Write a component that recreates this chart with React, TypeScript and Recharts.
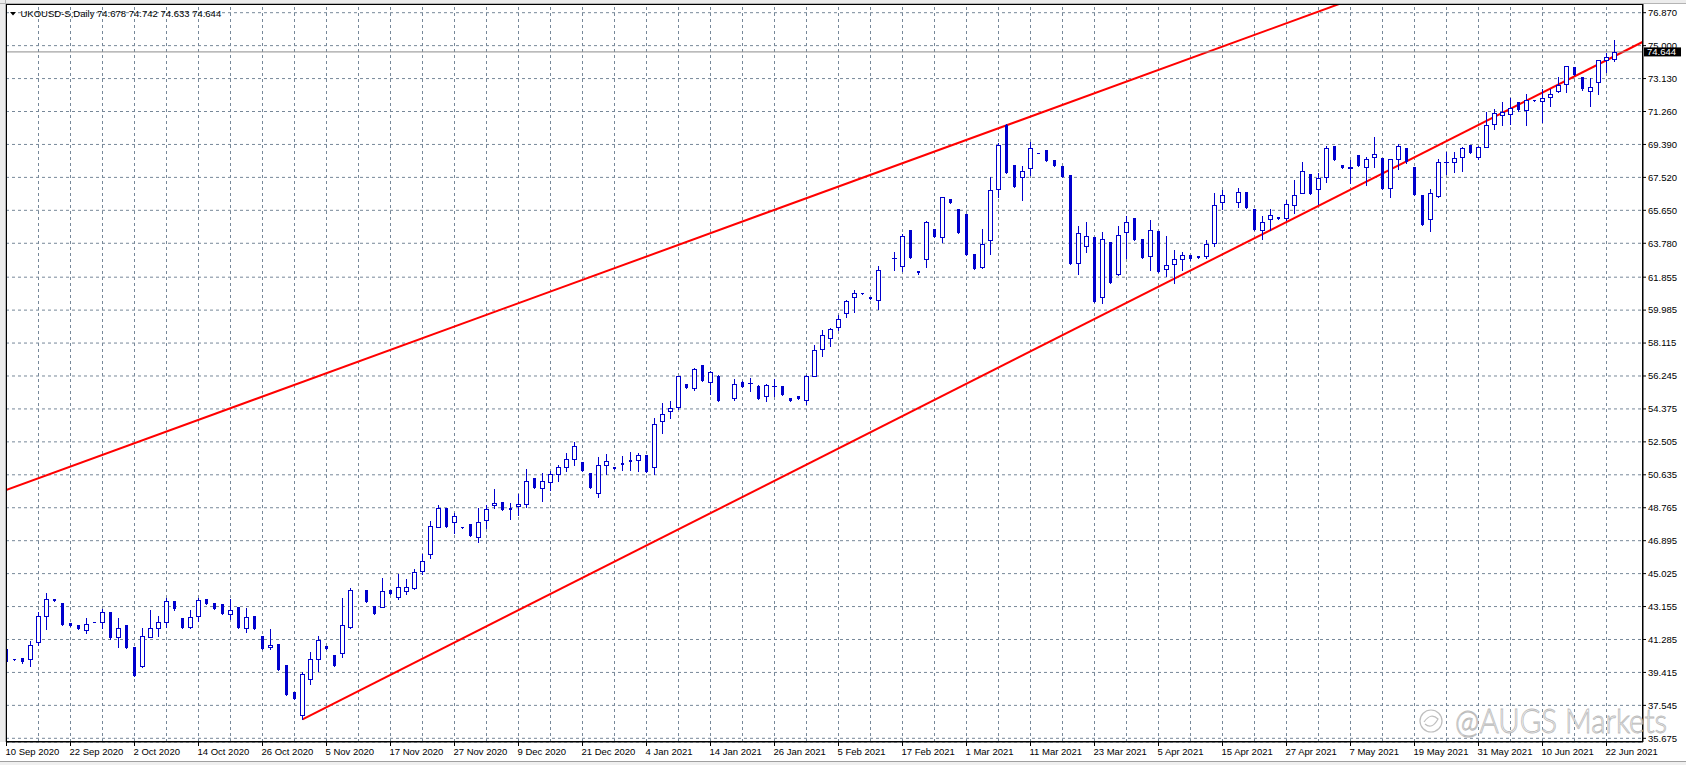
import React from 'react';
import { ComposedChart, Bar, XAxis, YAxis, CartesianGrid, ReferenceLine } from 'recharts';

// ---- data ----
const opens: (number | null)[] = [
  40.74, 40.18, 40.23, 40.15, 41.17, 42.64, 43.57, 43.34, 42.21, 42.10,
  41.83, 42.28, 42.29, 42.83, 41.43, 42.10, 40.85, 39.76, 41.43, 41.91,
  42.30, 43.45, 42.51, 42.00, 42.64, 43.57, 43.34, 43.29, 42.76, 43.12,
  41.96, 42.61, 41.49, 40.87, 41.02, 39.83, 38.30, 36.98, 39.03, 40.15,
  40.91, 40.40, 40.49, 41.98, null, 44.08, 43.17, 43.14, 44.08, 43.72,
  44.06, 44.23, 45.15, 46.12, 47.69, 48.73, 47.94, 47.66, 47.84, 47.10,
  48.05, 48.90, 49.07, 48.77, 48.85, 49.00, 50.45, 49.90, 50.21, 50.68,
  51.10, 51.51, 51.36, 50.74, 49.60, 51.17, 51.08, 51.30, 51.47, 51.45,
  51.76, 51.06, 53.67, 54.24, 54.50, 55.79, 55.58, 56.85, 55.90, 56.26,
  null, 55.01, 55.93, 55.84, 55.70, 55.09, 55.66, 55.68, 55.00, 55.11,
  54.87, 56.25, 57.76, 58.38, 59.05, 59.80, 60.71, 60.95, 60.73, 60.54,
  null, 62.93, 62.47, 64.51, 62.21, 62.87, 64.59, 64.12, 66.29, 65.73,
  65.44, 63.17, 62.45, 63.95, 66.88, 70.49, 68.22, 67.52, 68.03, 68.90,
  69.07, 68.51, 68.17, 67.66, 62.64, 63.62, 64.14, 60.75, 63.85, 62.02,
  64.40, 65.22, 64.02, 63.04, 64.48, 62.30, 62.58, 62.87, 63.11, 63.06,
  63.08, 63.78, 66.10, null, 66.10, 66.67, 65.73, 64.51, 65.16, 65.25,
  65.20, 65.93, 66.65, 67.69, 66.84, 67.56, 69.30, 68.20, 68.05, 68.79,
  68.09, 68.66, 68.62, 66.90, 68.58, 69.19, 68.11, 66.52, 65.14, 66.45,
  68.38, 68.38, 68.66, 69.34, 68.70, 69.26, 70.53, 71.06, 71.10, 71.80,
  71.33, 71.90, 71.84, 72.06, 72.41, 72.80, 73.79, 73.22, 72.41, 72.92,
  74.17, 74.24,
];
const highs: (number | null)[] = [
  40.80, 40.20, 40.25, 41.19, 42.85, 43.93, 43.60, 43.36, 42.23, 42.12,
  42.53, 42.29, 43.04, 42.85, 42.53, 42.12, 40.87, 41.91, 42.98, 42.61,
  43.66, 43.47, 42.53, 42.95, 43.66, 43.59, 43.36, 43.31, 43.57, 43.14,
  43.06, 42.63, 41.51, 41.87, 41.04, 39.85, 38.32, 39.43, 40.57, 41.47,
  40.93, 40.42, 43.63, 44.23, null, 44.10, 43.19, 44.76, 44.10, 45.02,
  44.72, 45.29, 46.14, 48.03, 48.90, 48.75, 48.47, 47.67, 47.86, 48.75,
  48.90, 49.81, 49.09, 49.03, 49.53, 50.95, 50.47, 50.72, 50.85, 51.19,
  51.87, 52.50, 51.38, 50.76, 51.64, 51.82, 51.10, 51.72, 51.91, 51.87,
  51.78, 53.88, 54.69, 54.82, 56.25, 55.81, 56.72, 56.87, 56.53, 56.28,
  null, 56.07, 55.95, 56.15, 55.72, 55.81, 56.10, 55.70, 55.02, 55.13,
  56.28, 57.98, 58.86, 58.97, 59.69, 60.54, 61.13, 60.96, 60.75, 62.49,
  null, 63.28, 64.29, 64.53, 62.23, 65.04, 64.61, 66.40, 66.31, 65.75,
  65.46, 63.19, 64.59, 67.52, 69.49, 70.55, 68.24, 68.17, 69.51, 68.91,
  69.09, 68.53, 68.19, 67.68, 64.76, 64.99, 64.16, 64.42, 63.87, 64.76,
  65.33, 65.24, 64.04, 65.10, 64.50, 64.19, 63.40, 63.28, 63.13, 63.08,
  63.97, 66.63, 66.79, null, 66.90, 66.69, 65.75, 65.33, 65.71, 65.27,
  66.24, 67.37, 68.38, 67.71, 67.79, 69.28, 69.32, 68.22, 68.51, 68.81,
  68.70, 69.81, 68.64, 68.57, 69.42, 69.21, 68.13, 66.54, 66.86, 68.56,
  68.94, 68.96, 69.26, 69.36, 69.32, 71.23, 71.42, 71.78, 72.03, 71.82,
  72.23, 71.91, 72.56, 72.56, 73.20, 73.83, 73.81, 73.24, 73.16, 74.18,
  74.60, 75.32,
];
const lows: (number | null)[] = [
  39.95, 40.12, 39.96, 39.77, 40.96, 41.87, 43.46, 42.10, 42.04, 41.87,
  41.66, 42.26, 41.91, 41.30, 40.87, 40.79, 39.21, 39.74, 41.41, 41.49,
  42.00, 42.97, 41.93, 41.91, 42.36, 43.28, 43.00, 42.72, 42.46, 41.93,
  41.72, 41.87, 40.74, 40.76, 39.55, 38.13, 37.88, 36.75, 38.77, 39.51,
  40.74, 39.78, 40.30, 41.91, null, 43.40, 42.72, 43.12, 43.87, 43.60,
  43.89, 44.17, 44.98, 45.93, 47.67, 47.67, 47.31, 47.63, 47.16, 46.80,
  47.63, 48.75, 48.64, 48.14, 48.33, 48.83, 49.88, 49.17, 49.77, 50.30,
  50.87, 51.21, 50.85, 49.88, 49.35, 50.70, 50.96, 50.93, 50.93, 50.87,
  50.79, 50.70, 53.03, 53.88, 54.35, 55.56, 55.47, 55.96, 55.24, 54.82,
  null, 54.90, 55.60, 55.38, 54.92, 54.85, 55.09, 55.17, 54.81, 54.94,
  54.68, 56.23, 57.40, 57.97, 58.87, 59.61, 59.90, 60.92, 60.61, 60.05,
  null, 62.28, 62.22, 62.94, 62.05, 62.45, 64.14, 63.87, 66.06, 64.36,
  63.11, 62.32, 62.39, 63.19, 66.41, 67.77, 66.97, 66.26, 67.68, 68.88,
  68.45, 68.17, 67.54, 62.60, 62.02, 63.28, 60.44, 60.40, 61.52, 62.00,
  62.96, 63.97, 62.94, 62.28, 62.15, 61.92, 61.50, 62.26, 62.85, 62.94,
  62.96, 63.64, 65.71, null, 65.86, 65.78, 64.53, 64.04, 64.53, 65.16,
  65.10, 65.52, 66.61, 66.58, 65.99, 67.24, 68.51, 68.05, 67.22, 68.17,
  67.07, 68.09, 66.86, 66.39, 68.02, 68.36, 66.52, 64.81, 64.50, 66.43,
  67.73, 67.84, 67.90, 68.90, 68.55, 69.24, 70.25, 70.51, 70.57, 71.31,
  70.51, 71.88, 70.68, 71.59, 72.39, 72.39, 73.33, 72.50, 71.59, 72.27,
  73.52, 74.15,
];
const closes: (number | null)[] = [
  40.02, 40.16, 39.98, 40.95, 42.64, 43.61, 43.48, 42.12, 42.06, 41.89,
  42.19, 42.27, 42.82, 41.38, 41.96, 40.81, 39.23, 41.51, 41.96, 42.25,
  43.49, 42.99, 41.95, 42.59, 43.55, 43.30, 43.02, 42.74, 42.98, 41.95,
  42.59, 41.89, 40.76, 41.00, 39.57, 38.15, 37.90, 39.32, 40.17, 41.25,
  40.76, 39.80, 42.08, 44.08, null, 43.42, 42.74, 44.02, 43.89, 44.25,
  44.25, 45.10, 45.72, 47.71, 48.73, 47.69, 48.28, 47.65, 47.18, 47.94,
  48.69, 49.02, 48.66, 48.66, 48.96, 50.28, 49.90, 50.28, 50.66, 51.06,
  51.51, 52.27, 50.87, 49.90, 51.19, 51.40, 50.98, 51.21, 51.38, 51.76,
  50.81, 53.50, 54.07, 54.41, 56.22, 55.58, 56.62, 55.98, 56.47, 54.84,
  null, 55.77, 55.62, 55.86, 54.94, 55.74, 55.68, 55.19, 54.83, 54.96,
  56.27, 57.70, 58.55, 58.89, 59.48, 60.53, 60.94, 60.94, 60.63, 62.24,
  null, 62.96, 64.17, 62.96, 62.07, 64.97, 64.16, 66.39, 66.08, 64.38,
  63.13, 62.34, 63.74, 66.80, 69.36, 67.79, 66.99, 67.88, 69.17, 68.89,
  68.47, 68.19, 67.56, 62.62, 64.34, 64.19, 60.46, 64.00, 61.54, 64.23,
  64.97, 63.99, 62.96, 64.52, 62.17, 62.53, 62.87, 63.09, 62.87, 62.96,
  63.72, 65.93, 66.50, null, 66.67, 65.80, 64.55, 64.97, 65.37, 65.18,
  65.99, 66.50, 67.86, 66.60, 67.47, 69.17, 68.53, 68.07, 68.09, 68.19,
  68.55, 68.83, 66.88, 68.56, 69.28, 68.38, 66.54, 64.83, 66.61, 68.38,
  68.42, 68.60, 69.19, 68.92, 69.25, 70.48, 71.16, 71.21, 71.44, 71.33,
  71.89, 71.89, 72.01, 72.23, 72.75, 73.82, 73.35, 72.52, 72.63, 74.17,
  74.37, 74.644,
];

const xTickLabels = [
  '10 Sep 2020', '22 Sep 2020', '2 Oct 2020', '14 Oct 2020', '26 Oct 2020', '5 Nov 2020',
  '17 Nov 2020', '27 Nov 2020', '9 Dec 2020', '21 Dec 2020', '4 Jan 2021', '14 Jan 2021',
  '26 Jan 2021', '5 Feb 2021', '17 Feb 2021', '1 Mar 2021', '11 Mar 2021', '23 Mar 2021',
  '5 Apr 2021', '15 Apr 2021', '27 Apr 2021', '7 May 2021', '19 May 2021', '31 May 2021',
  '10 Jun 2021', '22 Jun 2021',
];
const yTicks = [
  35.675, 37.545, 39.415, 41.285, 43.155, 45.025, 46.895, 48.765, 50.635, 52.505, 54.375,
  56.245, 58.115, 59.985, 61.855, 63.78, 65.65, 67.52, 69.39, 71.26, 73.13, 75.0, 76.87,
];
const upperTrend = [{ x: -0.0625, y: 49.77 }, { x: 170, y: 77.93 }];
const lowerTrend = [{ x: 37, y: 36.75 }, { x: 204.5625, y: 75.22 }];
const symbolTitle = 'UKOUSD-S,Daily';
const headerOHLC = ['74.678', '74.742', '74.633', '74.644'];
const watermark = '@AUGS Markets';

// ---- layout / style ----
const W = 1686;
const H = 765;
const BLUE = '#0000CD';
const GRID = '#778899';
const FONT = '"Liberation Sans", Arial, sans-serif';
const BAR_SPACING_TICKS = 8;
const GRID_EVERY = 4;

const rows = opens.map((o, i) => ({
  i,
  open: o,
  high: highs[i],
  low: lows[i],
  close: closes[i],
}));
const lastClose = closes[closes.length - 1] as number;
const xTicks = xTickLabels.map((_, k) => k * BAR_SPACING_TICKS);
const vGrid: number[] = [];
for (let k = GRID_EVERY; k <= 200; k += GRID_EVERY) vGrid.push(k);

const Candle = (props: any) => {
  const { x, y, width, height, payload } = props;
  if (!payload || payload.open == null || !isFinite(y) || !isFinite(height)) return <g />;
  const { open, high, low, close } = payload;
  const top = Math.min(y, y + height);
  const bot = Math.max(y, y + height);
  const span = high - low || 1;
  const pix = (v: number) => top + ((high - v) / span) * (bot - top);
  const cx = Math.round(x + width / 2 - 0.5) + 0.5;
  const yH = Math.round(pix(high));
  const yL = Math.round(pix(low));
  const tY = Math.round(pix(Math.max(open, close)));
  const bY = Math.round(pix(Math.min(open, close)));
  const bull = close >= open;
  return (
    <g>
      <line x1={cx} x2={cx} y1={yH} y2={yL + 1} stroke={BLUE} strokeWidth={1} />
      {bull ? (
        bY - tY < 1 ? (
          <line x1={cx - 2.5} x2={cx + 2.5} y1={tY + 0.5} y2={tY + 0.5} stroke={BLUE} strokeWidth={1} />
        ) : (
          <rect x={cx - 2} y={tY + 0.5} width={4} height={bY - tY} fill="#fff" stroke={BLUE} strokeWidth={1} />
        )
      ) : (
        <rect x={cx - 1.5} y={tY} width={3} height={Math.max(1, bY - tY)} fill={BLUE} />
      )}
    </g>
  );
};

const XTick = (props: any) => {
  const { x, y, payload } = props;
  const idx = xTicks.indexOf(payload.value);
  return (
    <text x={x - 1} y={y + 6.5} fontSize={9.5} fontFamily={FONT} fill="#000" textAnchor="start">
      {xTickLabels[idx]}
    </text>
  );
};

const PriceLabel = (props: any) => {
  const vb = props.viewBox || {};
  const yy = vb.y;
  const xr = (vb.x || 0) + (vb.width || 0);
  return (
    <g>
      <rect x={xr + 1} y={yy - 4.5} width={37} height={9} fill="#000" />
      <text x={xr + 4} y={yy} dy="0.36em" fontSize={9.5} fontFamily={FONT} fill="#fff">
        {lastClose.toFixed(3)}
      </text>
    </g>
  );
};

export default function App() {
  return (
    <div style={{ position: 'absolute', left: 0, top: 0, width: W, height: H, background: '#fff', overflow: 'hidden' }}>
      <ComposedChart
        width={W}
        height={H}
        data={rows}
        margin={{ top: 4, right: 0, bottom: 0, left: 6 }}
      >
        <CartesianGrid vertical={false} stroke={GRID} strokeDasharray="3 3" />
        <XAxis
          dataKey="i"
          type="number"
          domain={[-0.0625, 204.5625]}
          allowDataOverflow
          ticks={xTicks}
          interval={0}
          height={23}
          tickSize={4}
          tickLine={{ stroke: '#000' }}
          axisLine={{ stroke: '#000' }}
          tick={<XTick />}
        />
        <YAxis
          orientation="right"
          type="number"
          domain={[35.465, 77.364]}
          allowDataOverflow
          ticks={yTicks}
          interval={0}
          width={43}
          tickSize={3}
          tickMargin={2}
          tickFormatter={(v: number) => v.toFixed(3)}
          tick={{ fill: '#000', fontSize: 9.5, fontFamily: FONT }}
          tickLine={{ stroke: '#000' }}
          axisLine={{ stroke: '#000' }}
        />
        {vGrid.map((k) => (
          <ReferenceLine key={'g' + k} x={k} stroke={GRID} strokeDasharray="3 3" zIndex={-50} />
        ))}
        <ReferenceLine segment={upperTrend} stroke="#FF0000" strokeWidth={2} ifOverflow="hidden" zIndex={50} />
        <ReferenceLine segment={lowerTrend} stroke="#FF0000" strokeWidth={2} ifOverflow="hidden" zIndex={50} />
        <ReferenceLine y={lastClose} stroke="#8c8c8c" strokeWidth={1} zIndex={60} label={<PriceLabel />} />
        <Bar
          dataKey={(d: any) => (d.low == null ? null : [d.low, d.high])}
          barSize={5}
          shape={<Candle />}
          isAnimationActive={false}
          zIndex={200}
        />
      </ComposedChart>
      <svg
        width={W}
        height={H}
        style={{ position: 'absolute', left: 0, top: 0, pointerEvents: 'none' }}
      >
        <rect x={0} y={0} width={W} height={4} fill="#ececec" />
        <rect x={0} y={0} width={6} height={742} fill="#ececec" />
        <line x1={0} x2={W} y1={3.5} y2={3.5} stroke="#b4b4b4" />
        <line x1={5.5} x2={5.5} y1={0} y2={742} stroke="#b4b4b4" />
        <rect x={6.5} y={4.5} width={1636} height={737} fill="none" stroke="#000" />
        <rect x={0} y={761} width={W} height={4} fill="#f0f0f0" />
        <line x1={0} x2={W} y1={761.5} y2={761.5} stroke="#a0a0a0" />
        <polygon points="10,12 16,12 13,15.5" fill="#000" />
        <text x={20.5} y={16.7} fontSize={9.5} fontFamily={FONT} fill="#000">
          {symbolTitle + '  ' + headerOHLC.join(' ')}
        </text>
        <g opacity={0.9}>
          <circle cx={1431} cy={721} r={11} fill="#fff" fillOpacity={0.5} stroke="#b8b8b8" strokeWidth={1.2} />
          <path d="M1424 722 Q1431 712 1438 719 Q1432 730 1425 724" fill="none" stroke="#b8b8b8" strokeWidth={1.2} />
          <text
            x={1455}
            y={733}
            fontSize={34}
            fontFamily="Lato, 'Open Sans', sans-serif"
            fontWeight={300}
            fill="#ffffff"
            fillOpacity={0.6}
            stroke="#b4b4b4"
            strokeWidth={0.9}
            textLength={212}
            lengthAdjust="spacingAndGlyphs"
          >
            {watermark}
          </text>
        </g>
      </svg>
    </div>
  );
}
